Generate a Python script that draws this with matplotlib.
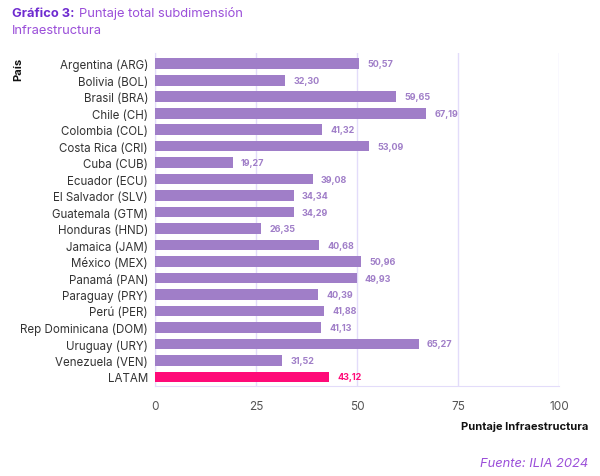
import matplotlib
import matplotlib.pyplot as plt

matplotlib.use('Agg')

paises = ['Argentina (ARG)', 'Bolivia (BOL)', 'Brasil (BRA)', 'Chile (CH)',
          'Colombia (COL)', 'Costa Rica (CRI)', 'Cuba (CUB)', 'Ecuador (ECU)',
          'El Salvador (SLV)', 'Guatemala (GTM)', 'Honduras (HND)',
          'Jamaica (JAM)', 'México (MEX)', 'Panamá (PAN)', 'Paraguay (PRY)',
          'Perú (PER)', 'Rep Dominicana (DOM)', 'Uruguay (URY)',
          'Venezuela (VEN)', 'LATAM']
puntajes = [50.57, 32.30, 59.65, 67.19, 41.32, 53.09, 19.27, 39.08, 34.34,
            34.29, 26.35, 40.68, 50.96, 49.93, 40.39, 41.88, 41.13, 65.27,
            31.52, 43.12]
x_ticks = [0, 25, 50, 75, 100]

BAR = '#a07ec8'
LATAM = '#ff0a78'
GRID = '#e3dcfa'
TEXT = '#333333'

plt.rcParams['font.family'] = ['Inter', 'DejaVu Sans']

fig = plt.figure(figsize=(6, 4.77), dpi=100)
ax = fig.add_axes([155 / 600, 1 - 387 / 477, 404 / 600, 333 / 477])

colors = [LATAM if p == 'LATAM' else BAR for p in paises]
ypos = list(range(len(paises)))
ax.barh(ypos, puntajes, height=0.65, color=colors, zorder=3)
for y, v, c in zip(ypos, puntajes, colors):
    ax.text(v + 2.0, y, f'{v:.2f}'.replace('.', ','), va='center', ha='left',
            fontsize=6.5, fontweight='bold', color=c, zorder=4)

ax.set_ylim(len(paises) - 0.5 + 0.05, -0.5 - 0.15)
ax.set_xlim(0, 100)
ax.set_yticks(ypos)
ax.set_yticklabels(paises, fontsize=8.3, color=TEXT)
ax.set_xticks(x_ticks)
ax.set_xticklabels([str(t) for t in x_ticks], fontsize=8.5, color='#555555')
ax.tick_params(axis='both', length=0)
ax.tick_params(axis='y', pad=5)
ax.tick_params(axis='x', pad=10)
ax.grid(axis='x', color=GRID, linewidth=1, zorder=0)
for side in ['top', 'right']:
    ax.spines[side].set_visible(False)
ax.spines['left'].set_color(GRID)
ax.spines['bottom'].set_color(GRID)

fig.text(12 / 600, 1 - 14 / 477, 'Gráfico 3:', fontsize=9.3, fontweight='bold',
         color='#6f2bd0', va='center', ha='left')
fig.text(79 / 600, 1 - 14 / 477, 'Puntaje total subdimensión', fontsize=9.3,
         color='#9b4fd9', va='center', ha='left')
fig.text(12 / 600, 1 - 31 / 477, 'Infraestructura', fontsize=9.3,
         color='#9b4fd9', va='center', ha='left')

fig.text(18 / 600, 1 - 58 / 477, 'País', fontsize=8, fontweight='bold',
         color='#111111', rotation=90, va='top', ha='center')
fig.text(588 / 600, 1 - 427 / 477, 'Puntaje Infraestructura', fontsize=8,
         fontweight='bold', color='#111111', va='center', ha='right')
fig.text(588 / 600, 1 - 464 / 477, 'Fuente: ILIA 2024', fontsize=9.3,
         style='italic', color='#9b4fd9', va='center', ha='right')

fig.savefig('out.png', dpi=100)
